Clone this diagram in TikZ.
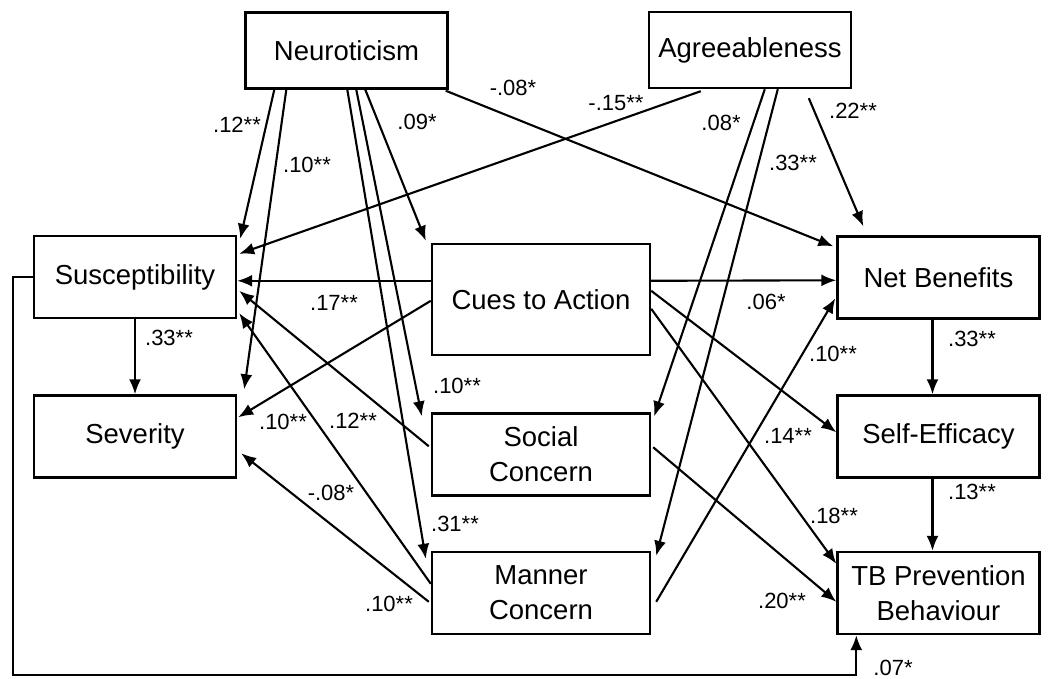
\documentclass[tikz,border=0pt]{standalone}
\usepackage{fontspec}
\setmainfont{Liberation Sans}
\usetikzlibrary{arrows.meta, calc}

\begin{document}
\begin{tikzpicture}[x=0.5pt, y=-0.5pt, >={Latex[length=7.5pt,width=6pt]}, line width=1.05pt,
  box/.style={draw, line width=1.2pt, minimum width=101pt, minimum height=41pt, inner sep=0pt, align=center, font=\fontsize{13.75}{17.5}\selectfont},
  midbox/.style={box, minimum width=109pt},
  topbox/.style={box, minimum height=38pt},
  coef/.style={inner sep=0pt, font=\fontsize{11}{13}\selectfont}]

\useasboundingbox (0,0) rectangle (1062,679);

% constructs
\node[topbox] (neuro) at (346.5,50.5) {Neuroticism};
\node[topbox] (agree) at (750,50) {Agreeableness};
\node[box] (susc) at (135,277) {Susceptibility};
\node[box] (sev) at (135,436.5) {Severity};
\node[midbox, minimum height=55.5pt] (cues) at (541,299.5) {Cues to Action};
\node[midbox] (social) at (541,454.5) {Social\\Concern};
\node[midbox] (manner) at (541,593) {Manner\\Concern};
\node[box] (net) at (938.5,277.5) {Net Benefits};
\node[box] (self) at (938.5,436.5) {Self-Efficacy};
\node[box] (tb) at (938.5,593) {TB Prevention\\Behaviour};

% paths from neuroticism
\draw[->] ($(neuro.south west)+(30,0)$) -- ($(susc.north east)+(3,4)$);
\draw[->] ($(neuro.south west)+(42,0)$) -- ($(sev.north east)+(7,-5)$);
\draw[->] ($(neuro.south west)+(103,0)$) -- ($(manner.north west)+(-5,8)$);
\draw[->] ($(neuro.south west)+(112,0)$) -- ($(social.north west)+(-9,4)$);
\draw[->] ($(neuro.south west)+(121,0)$) -- ($(cues.north west)+(-5,-2)$);
\draw[->] ($(neuro.south east)+(-3,1)$) -- ($(net.north west)+(-3,11)$);

% paths from agreeableness
\draw[->] ($(agree.south west)+(53,2)$) -- ($(susc.north east)+(2,19)$);
\draw[->] ($(agree.south west)+(117,0)$) -- ($(social.north east)+(3,4)$);
\draw[->] ($(agree.south west)+(130,0)$) -- ($(manner.north east)+(5,5)$);
\draw[->] ($(agree.south west)+(161,9)$) -- ($(net.north west)+(27,-9)$);

% paths from cues to action
\draw[->] ($(cues.north west)+(0,38)$) -- ($(susc.north east)+(0,46)$);
\draw[->] ($(cues.north west)+(0,58)$) -- ($(sev.north east)+(1,23)$);
\draw[->] ($(cues.north east)+(0,38)$) -- ($(net.north west)+(0,45)$);
\draw[->] ($(cues.north east)+(0,48)$) -- ($(self.north west)+(0,38)$);
\draw[->] ($(cues.north east)+(0,66)$) -- ($(tb.north west)+(0,13)$);

% paths from social and manner concern
\draw[->] ($(social.north west)+(-2,34)$) -- ($(susc.north east)+(2,56)$);
\draw[->] ($(manner.north west)+(0,33)$) -- ($(susc.south east)+(2,-6)$);
\draw[->] ($(manner.north west)+(-2,51)$) -- ($(sev.north east)+(4,59)$);
\draw[->] ($(social.north east)+(2,35)$) -- ($(tb.north west)+(0,51)$);
\draw[->] ($(manner.north east)+(5,51)$) -- ($(net.north west)+(-1,63)$);

% vertical paths
\draw[->] (susc.south) -- (sev.north);
\draw[->] ([xshift=-3pt]net.south) -- ([xshift=-3pt]self.north);
\draw[->] ([xshift=-3pt]self.south) -- ([xshift=-3pt]tb.north);

% direct path to behaviour
\coordinate (loop) at (13,675);
\draw[->] (susc.west) -| (loop) -| ($(tb.south west)+(20,0)$);

% coefficients
\node[coef] (k1) at (237,125) {.12**};
\node[coef] (k2) at (307,165) {.10**};
\node[coef] (k3) at (417,122) {.09*};
\node[coef] (k4) at (513,88) {-.08*};
\node[coef] (k5) at (616,103) {-.15**};
\node[coef] (k6) at (721,123) {.08*};
\node[coef] (k7) at (793,163) {.33**};
\node[coef] (k8) at (853,111) {.22**};
\node[coef] (k9) at (334,303) {.17**};
\node[coef] (k10) at (766,302) {.06*};
\node[coef] (k11) at (169,338) {.33**};
\node[coef] (k12) at (283,422) {.10**};
\node[coef] (k13) at (353,421) {.12**};
\node[coef] (k14) at (457,386) {.10**};
\node[coef] (k15) at (331,493) {-.08*};
\node[coef] (k16) at (455,524) {.31**};
\node[coef] (k17) at (389,604) {.10**};
\node[coef] (k18) at (833,354) {.10**};
\node[coef] (k19) at (972,339) {.33**};
\node[coef] (k20) at (788,436) {.14**};
\node[coef] (k21) at (972,492) {.13**};
\node[coef] (k22) at (834,516) {.18**};
\node[coef] (k23) at (782,601) {.20**};
\node[coef] (k24) at (893,668) {.07*};

\end{tikzpicture}
\end{document}
